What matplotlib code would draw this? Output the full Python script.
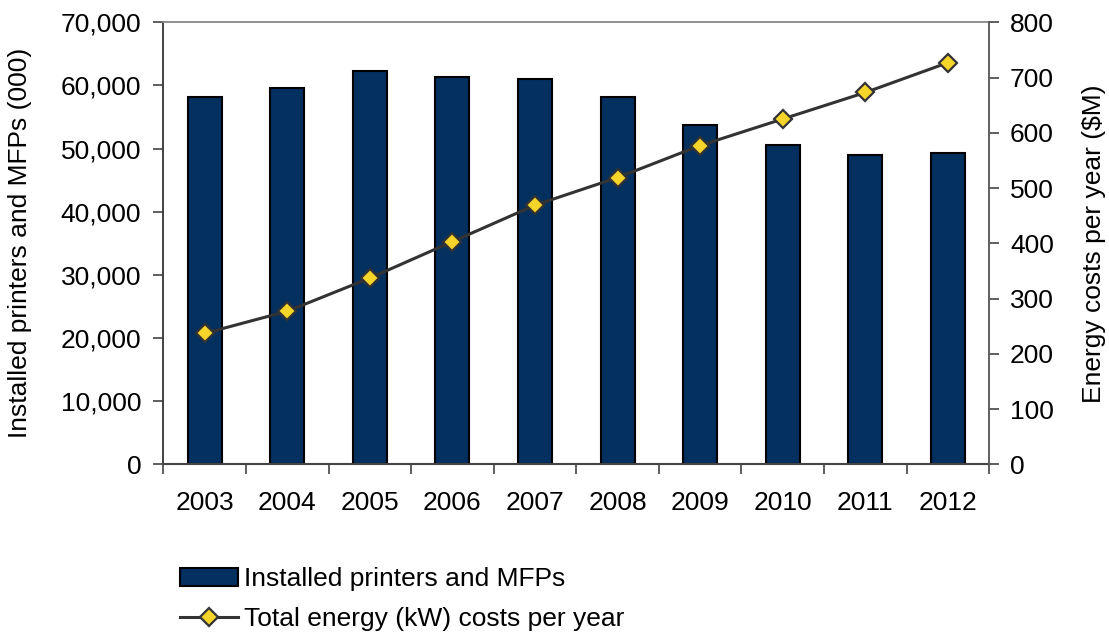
import numpy as np
import matplotlib.pyplot as plt
from matplotlib.ticker import FuncFormatter, FixedLocator

plt.rcParams['font.family'] = ['Liberation Sans', 'DejaVu Sans']

years = ['2003', '2004', '2005', '2006', '2007', '2008', '2009', '2010', '2011', '2012']
printers = [58170, 59550, 62290, 61340, 60970, 58120, 53790, 50570, 48940, 49300]
energy_costs = [237, 277, 337, 403, 469, 519, 577, 625, 673, 727]

bar_color = '#03305f'
fs = 19

fig = plt.figure(figsize=(11.09, 6.34), dpi=100)
ax = fig.add_axes([0.1473, 0.2677, 0.7447, 0.6971])
x = np.arange(len(years))

bars = ax.bar(x, printers, width=0.41, color=bar_color, edgecolor='black', linewidth=1.5,
              label='Installed printers and MFPs', zorder=2)
ax.set_xlim(-0.5, len(years) - 0.5)
ax.set_ylim(0, 70000)
ax.set_yticks(np.arange(0, 70001, 10000))
ax.yaxis.set_major_formatter(FuncFormatter(lambda v, p: f'{int(v):,}'))
ax.set_xticks(x)
ax.set_xticklabels(years)
ax.xaxis.set_minor_locator(FixedLocator(np.arange(-0.5, len(years), 1)))
ax.tick_params(axis='x', which='major', length=0, pad=19, labelsize=fs)
ax.tick_params(axis='x', which='minor', length=7, width=1.2, color='#444444', direction='out')
ax.tick_params(axis='y', length=7, width=1.2, color='#444444', labelsize=fs, pad=9)
ax.set_ylabel('Installed printers and MFPs (000)', fontsize=fs)
ax.yaxis.set_label_coords(-0.159, 0.5)

ax.spines['top'].set_color('#888888')
ax.spines['top'].set_linewidth(1.3)
ax.spines['left'].set_color('#333333')
ax.spines['left'].set_linewidth(1.3)
ax.spines['bottom'].set_color('#444444')
ax.spines['bottom'].set_linewidth(1.5)
ax.spines['right'].set_visible(False)

ax2 = ax.twinx()
line, = ax2.plot(x, energy_costs, color='#333333', linewidth=2.2, marker='D', markersize=9,
                 markerfacecolor='#f5d52a', markeredgecolor='#333333', markeredgewidth=1.6,
                 label='Total energy (kW) costs per year', zorder=3)
ax2.set_ylim(0, 800)
ax2.set_yticks(np.arange(0, 801, 100))
ax2.tick_params(axis='y', length=7, width=1.2, color='#444444', labelsize=fs, pad=8)
ax2.set_ylabel('Energy costs per year ($M)', fontsize=fs)
ax2.yaxis.set_label_coords(1.112, 0.5)
for s in ['top', 'left', 'bottom']:
    ax2.spines[s].set_visible(False)
ax2.spines['right'].set_color('#555555')
ax2.spines['right'].set_linewidth(1.3)

fig.legend(handles=[bars, line], loc='lower left', bbox_to_anchor=(0.1525, -0.012),
           frameon=False, fontsize=fs, handlelength=2.2, handleheight=0.68,
           handletextpad=0.25, labelspacing=0.6, borderaxespad=0.0)

fig.savefig('out.png', dpi=100)
